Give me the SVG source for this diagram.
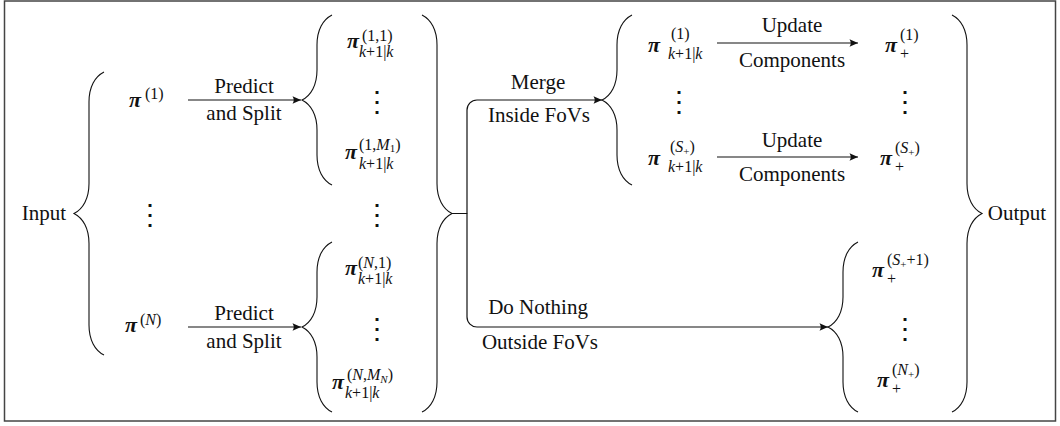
<svg xmlns="http://www.w3.org/2000/svg" width="1060" height="426" viewBox="0 0 1060 426">
<defs>
<style>
text{font-family:"Liberation Serif","Times New Roman",serif;fill:#111}
.lbl{font-size:21px;text-anchor:middle}
.pi{font-size:22px;font-weight:bold;font-style:italic}
.sc{font-size:16px}
.it{font-style:italic}
.ss{font-size:11px}
.dots{font-family:"Noto Sans CJK JP","Noto Sans CJK SC",sans-serif;font-size:28px;text-anchor:middle}
.brace{fill:none;stroke:#111;stroke-width:1.1}
.conn{fill:none;stroke:#111;stroke-width:1.2}
</style>
<marker id="ah" markerUnits="userSpaceOnUse" markerWidth="12" markerHeight="10" refX="10" refY="5" orient="auto" overflow="visible">
<path d="M10,5 L1.5,1.2 Q4,5 1.5,8.8 Z" fill="#111"/>
</marker>
</defs>
<rect x="4.5" y="1" width="1051" height="420" fill="#fff" stroke="#444" stroke-width="1.5"/>

<g id="input">
<text class="lbl" x="44" y="220">Input</text>
<path class="brace" d="M104,72 C95,76.5 89,87 89,102 L89,183.5 C89,198.5 83,209 74,213.5 C83,218 89,228.5 89,243.5 L89,325 C89,340 95,350.5 104,355"/>
</g>

<g id="pi1">
<text class="pi" x="129" y="107">π</text>
<text class="sc" x="145" y="99">(1)</text>
</g>
<g id="dots-left"><text class="dots" x="150" y="224">⋮</text></g>
<g id="piN">
<text class="pi" x="125" y="332">π</text>
<text class="sc" x="140" y="325">(<tspan class="it">N</tspan>)</text>
</g>

<g id="group1">
<path class="brace" d="M332,15 C323,19.5 317,30 317,45 L317,70 C317,85 311,95.5 302,100 C311,104.5 317,115 317,130 L317,155 C317,170 323,180.5 332,185"/>
<text class="pi" x="347" y="48">π</text>
<text class="sc" x="362" y="41">(1,1)</text>
<text class="sc" x="359" y="57"><tspan class="it">k</tspan>+1|<tspan class="it">k</tspan></text>
<text class="dots" x="377" y="111">⋮</text>
<text class="pi" x="345" y="159">π</text>
<text class="sc" x="359" y="150">(1,<tspan class="it">M</tspan><tspan class="ss" dy="2">1</tspan><tspan dy="-2">)</tspan></text>
<text class="sc" x="359" y="169"><tspan class="it">k</tspan>+1|<tspan class="it">k</tspan></text>
</g>

<g id="dots-mid"><text class="dots" x="377" y="224">⋮</text></g>

<g id="groupN">
<path class="brace" d="M332,242 C323,246.5 317,257 317,272 L317,297 C317,312 311,322.5 302,327 C311,331.5 317,342 317,357 L317,382 C317,397 323,407.5 332,412"/>
<text class="pi" x="345" y="275">π</text>
<text class="sc" x="358" y="268">(<tspan class="it">N</tspan>,1)</text>
<text class="sc" x="358" y="284"><tspan class="it">k</tspan>+1|<tspan class="it">k</tspan></text>
<text class="dots" x="377" y="338">⋮</text>
<text class="pi" x="332" y="389">π</text>
<text class="sc" x="347" y="380">(<tspan class="it">N</tspan>,<tspan class="it">M</tspan><tspan class="ss it" dy="3">N</tspan><tspan dy="-3">)</tspan></text>
<text class="sc" x="345" y="398"><tspan class="it">k</tspan>+1|<tspan class="it">k</tspan></text>
</g>

<g id="predicted">
<path class="brace" d="M422,15 C431,19.5 437,30 437,45 L437,183.5 C437,198.5 443,209 452,213.5 C443,218 437,228.5 437,243.5 L437,382 C437,397 431,407.5 422,412"/>
</g>

<g id="inside">
<path class="brace" d="M632,15 C623,19.5 617,30 617,45 L617,70 C617,85 611,95.5 602,100 C611,104.5 617,115 617,130 L617,155 C617,170 623,180.5 632,185"/>
<text class="pi" x="648" y="52">π</text>
<text class="sc" x="671" y="39">(1)</text>
<text class="sc" x="668" y="59"><tspan class="it">k</tspan>+1|<tspan class="it">k</tspan></text>
<text class="dots" x="679" y="111">⋮</text>
<text class="pi" x="648" y="165">π</text>
<text class="sc" x="670" y="152">(<tspan class="it">S</tspan><tspan class="ss" dy="3">+</tspan><tspan dy="-3">)</tspan></text>
<text class="sc" x="668" y="172"><tspan class="it">k</tspan>+1|<tspan class="it">k</tspan></text>
<text class="pi" x="885" y="52">π</text>
<text class="sc" x="900" y="40">(1)</text>
<text class="sc" x="900" y="59">+</text>
<text class="dots" x="905" y="111">⋮</text>
<text class="pi" x="880" y="165">π</text>
<text class="sc" x="895" y="153">(<tspan class="it">S</tspan><tspan class="ss" dy="3">+</tspan><tspan dy="-3">)</tspan></text>
<text class="sc" x="895" y="172">+</text>
</g>

<g id="outside">
<path class="brace" d="M858,242 C849,246.5 843,257 843,272 L843,297 C843,312 837,322.5 828,327 C837,331.5 843,342 843,357 L843,382 C843,397 849,407.5 858,412"/>
<text class="pi" x="872" y="277">π</text>
<text class="sc" x="887" y="265">(<tspan class="it">S</tspan><tspan class="ss" dy="3">+</tspan><tspan dy="-3">+1)</tspan></text>
<text class="sc" x="887" y="284">+</text>
<text class="dots" x="905" y="338">⋮</text>
<text class="pi" x="877" y="387">π</text>
<text class="sc" x="892" y="375">(<tspan class="it">N</tspan><tspan class="ss" dy="3">+</tspan><tspan dy="-3">)</tspan></text>
<text class="sc" x="892" y="394">+</text>
</g>

<g id="output">
<path class="brace" d="M952,15 C961,19.5 967,30 967,45 L967,183.5 C967,198.5 973,209 982,213.5 C973,218 967,228.5 967,243.5 L967,382 C967,397 961,407.5 952,412"/>
<text class="lbl" x="1017" y="220">Output</text>
</g>

<g id="connectors">
<path class="conn" d="M188,100 H301" marker-end="url(#ah)"/>
<text class="lbl" x="244" y="93">Predict</text>
<text class="lbl" x="244" y="120">and Split</text>
<path class="conn" d="M188,327 H301" marker-end="url(#ah)"/>
<text class="lbl" x="244" y="320">Predict</text>
<text class="lbl" x="244" y="348">and Split</text>
<path class="conn" d="M452,213.5 H467 V110 A10,10 0 0 1 477,100 H602" marker-end="url(#ah)"/>
<path class="conn" d="M467,213.5 V317 A10,10 0 0 0 477,327 H828" marker-end="url(#ah)"/>
<text class="lbl" x="538" y="89">Merge</text>
<text class="lbl" x="539" y="122">Inside FoVs</text>
<text class="lbl" x="538" y="314">Do Nothing</text>
<text class="lbl" x="540" y="349">Outside FoVs</text>
<path class="conn" d="M717,43 H858" marker-end="url(#ah)"/>
<text class="lbl" x="792" y="32">Update</text>
<text class="lbl" x="792" y="67">Components</text>
<path class="conn" d="M717,157 H858" marker-end="url(#ah)"/>
<text class="lbl" x="792" y="147">Update</text>
<text class="lbl" x="792" y="181">Components</text>
</g>
</svg>
